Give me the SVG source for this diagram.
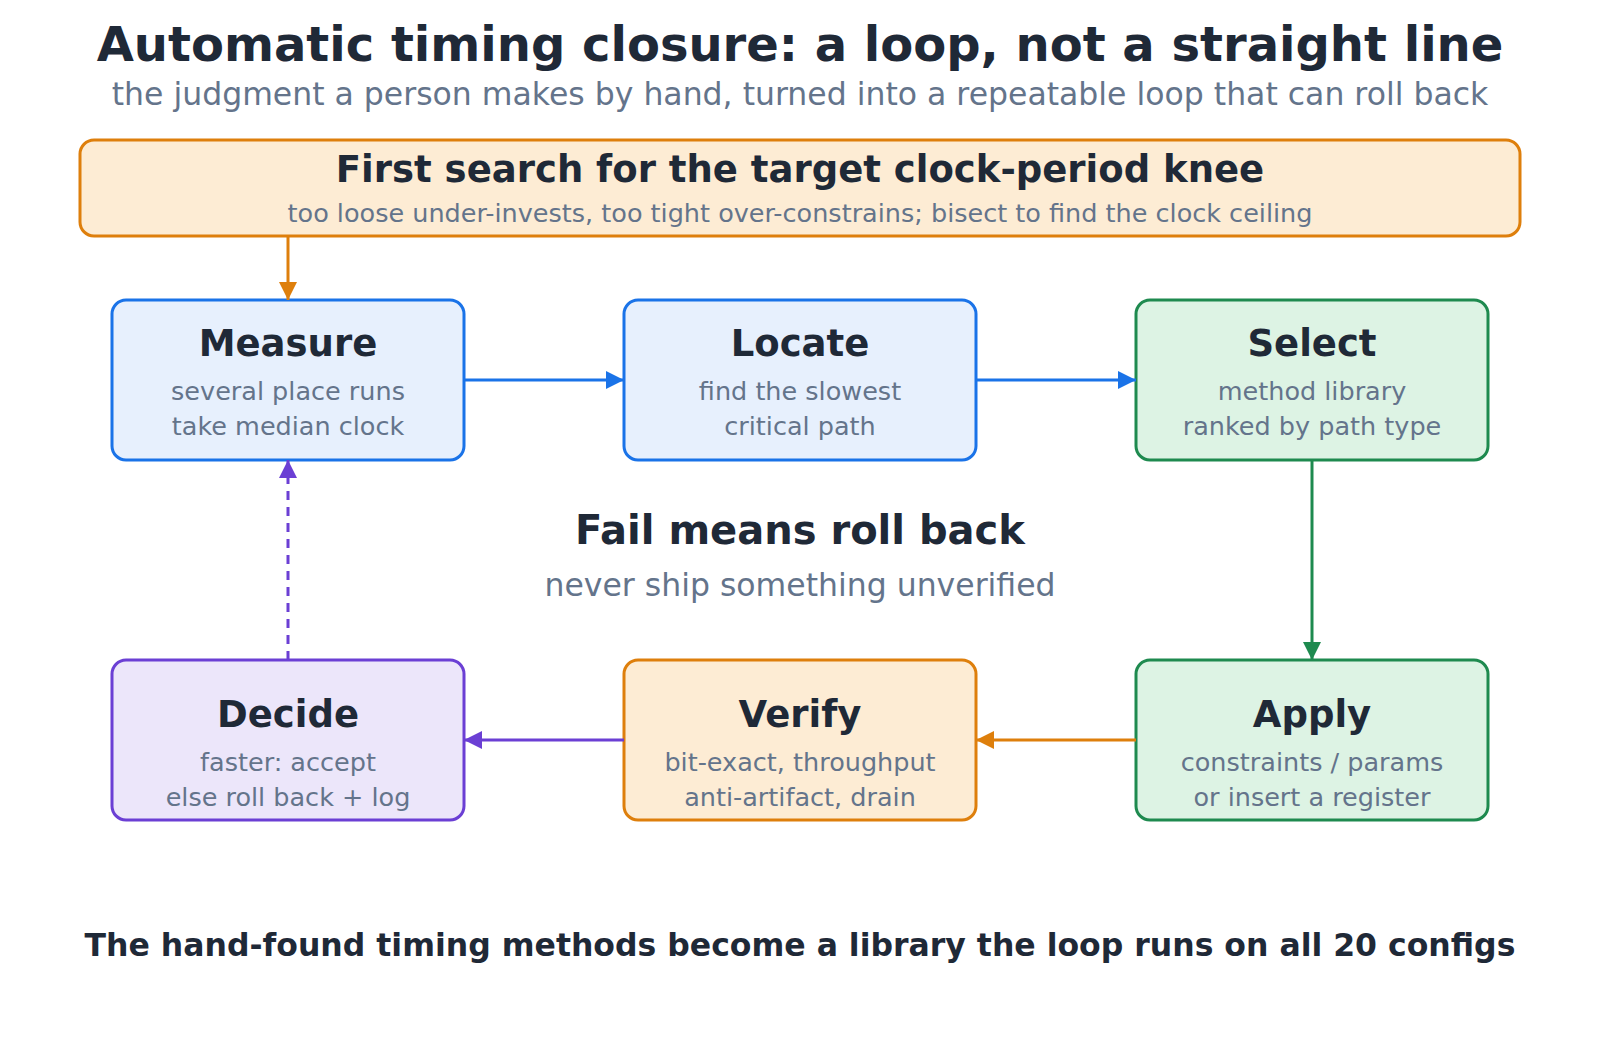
<svg xmlns="http://www.w3.org/2000/svg" width="1600" height="1040" viewBox="0 0 1600 1040">
<style>
text{font-family:"DejaVu Sans","Liberation Sans",sans-serif;text-anchor:middle}
.t{font-weight:bold;fill:#1f2937}
.s{fill:#64748b;font-size:25.5px}
.h{font-size:37px}
.blue{fill:#e7f0fd;stroke:#1a73e8;stroke-width:3}
.green{fill:#ddf3e4;stroke:#1e8a4f;stroke-width:3}
.orange{fill:#fdecd4;stroke:#de7f0c;stroke-width:3}
.purple{fill:#ece6fa;stroke:#6b3fd4;stroke-width:3}
</style>
<defs>
<marker id="ab" viewBox="0 0 10 10" refX="10" refY="5" markerWidth="6" markerHeight="6" orient="auto"><path d="M0,0L10,5L0,10z" fill="#1a73e8"/></marker>
<marker id="ag" viewBox="0 0 10 10" refX="10" refY="5" markerWidth="6" markerHeight="6" orient="auto"><path d="M0,0L10,5L0,10z" fill="#1e8a4f"/></marker>
<marker id="ao" viewBox="0 0 10 10" refX="10" refY="5" markerWidth="6" markerHeight="6" orient="auto"><path d="M0,0L10,5L0,10z" fill="#de7f0c"/></marker>
<marker id="ap" viewBox="0 0 10 10" refX="10" refY="5" markerWidth="6" markerHeight="6" orient="auto"><path d="M0,0L10,5L0,10z" fill="#6b3fd4"/></marker>
</defs>
<rect width="1600" height="1040" fill="#fff"/>
<text x="800" y="61" class="t" font-size="48">Automatic timing closure: a loop, not a straight line</text>
<text x="800" y="105" fill="#64748b" font-size="31.5">the judgment a person makes by hand, turned into a repeatable loop that can roll back</text>
<g id="knee"><rect x="80" y="140" width="1440" height="96" rx="14" class="orange"/>
<text x="800" y="182" class="t" font-size="37">First search for the target clock-period knee</text>
<text x="800" y="222" class="s">too loose under-invests, too tight over-constrains; bisect to find the clock ceiling</text></g>
<g id="measure"><rect x="112" y="300" width="352" height="160" rx="14" class="blue"/>
<text x="288" y="356" class="t h">Measure</text><text x="288" y="400" class="s">several place runs</text><text x="288" y="435" class="s">take median clock</text></g>
<g id="locate"><rect x="624" y="300" width="352" height="160" rx="14" class="blue"/>
<text x="800" y="356" class="t h">Locate</text><text x="800" y="400" class="s">find the slowest</text><text x="800" y="435" class="s">critical path</text></g>
<g id="select"><rect x="1136" y="300" width="352" height="160" rx="14" class="green"/>
<text x="1312" y="356" class="t h">Select</text><text x="1312" y="400" class="s">method library</text><text x="1312" y="435" class="s">ranked by path type</text></g>
<g id="decide"><rect x="112" y="660" width="352" height="160" rx="14" class="purple"/>
<text x="288" y="727" class="t h">Decide</text><text x="288" y="771" class="s">faster: accept</text><text x="288" y="806" class="s">else roll back + log</text></g>
<g id="verify"><rect x="624" y="660" width="352" height="160" rx="14" class="orange"/>
<text x="800" y="727" class="t h">Verify</text><text x="800" y="771" class="s">bit-exact, throughput</text><text x="800" y="806" class="s">anti-artifact, drain</text></g>
<g id="apply"><rect x="1136" y="660" width="352" height="160" rx="14" class="green"/>
<text x="1312" y="727" class="t h">Apply</text><text x="1312" y="771" class="s">constraints / params</text><text x="1312" y="806" class="s">or insert a register</text></g>
<g id="center"><text x="800" y="544" class="t" font-size="40">Fail means roll back</text>
<text x="800" y="596" fill="#64748b" font-size="31.5">never ship something unverified</text></g>
<g id="connectors" stroke-width="3" fill="none">
<path d="M288,236V300" stroke="#de7f0c" marker-end="url(#ao)"/>
<path d="M464,380H624" stroke="#1a73e8" marker-end="url(#ab)"/>
<path d="M976,380H1136" stroke="#1a73e8" marker-end="url(#ab)"/>
<path d="M1312,460V660" stroke="#1e8a4f" marker-end="url(#ag)"/>
<path d="M1136,740H976" stroke="#de7f0c" marker-end="url(#ao)"/>
<path d="M624,740H464" stroke="#6b3fd4" marker-end="url(#ap)"/>
<path d="M288,660V460" stroke="#6b3fd4" stroke-dasharray="9,7" marker-end="url(#ap)"/>
</g>
<text x="800" y="956" class="t" font-size="31.5">The hand-found timing methods become a library the loop runs on all 20 configs</text>
</svg>
